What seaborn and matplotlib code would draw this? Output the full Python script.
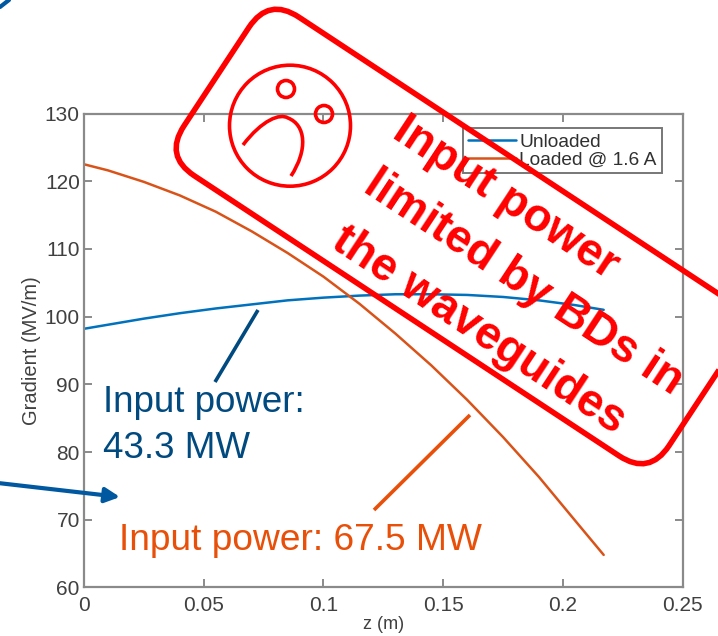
import pandas as pd
import seaborn as sns
import matplotlib.pyplot as plt
from matplotlib.patches import FancyBboxPatch, Circle, PathPatch, FancyArrowPatch
from matplotlib.path import Path
from matplotlib.transforms import Affine2D

# values
z_unloaded = [0, 0.01, 0.025, 0.04, 0.055, 0.07, 0.085, 0.1, 0.115, 0.13, 0.145, 0.16, 0.175, 0.19, 0.205, 0.217]
g_unloaded = [98.2, 98.8, 99.7, 100.5, 101.2, 101.8, 102.4, 102.8, 103.1, 103.3, 103.3, 103.2, 102.9, 102.4, 101.7, 101.0]
z_loaded = [0, 0.01, 0.025, 0.04, 0.055, 0.07, 0.085, 0.1, 0.115, 0.13, 0.145, 0.16, 0.175, 0.19, 0.205, 0.217]
g_loaded = [122.5, 121.6, 119.9, 117.9, 115.5, 112.6, 109.4, 105.9, 101.9, 97.5, 92.8, 87.7, 82.2, 76.3, 69.9, 64.8]

x_ticks = [0, 0.05, 0.1, 0.15, 0.2, 0.25]
x_labels = ['0', '0.05', '0.1', '0.15', '0.2', '0.25']
y_ticks = [60, 70, 80, 90, 100, 110, 120, 130]

stamp_lines = ['Input power', 'limited by BDs in', 'the waveguides']

df = pd.concat([
    pd.DataFrame({'z': z_unloaded, 'g': g_unloaded, 'case': 'Unloaded'}),
    pd.DataFrame({'z': z_loaded, 'g': g_loaded, 'case': 'Loaded @ 1.6 A'}),
])

sns.set_style('white')
plt.rcParams['font.family'] = ['Liberation Sans', 'DejaVu Sans']

W, H = 718, 636
fig = plt.figure(figsize=(W / 100, H / 100), dpi=100)
ax = fig.add_axes([84 / W, 1 - 587.4 / H, (682.7 - 84) / W, (587.4 - 113.5) / H])

sns.lineplot(data=df, x='z', y='g', hue='case', palette=['#0072BD', '#D95319'],
             linewidth=1.8, ax=ax, estimator=None, sort=False)
ax.set_xlim(0, 0.25)
ax.set_ylim(60, 130)
ax.set_xticks(x_ticks)
ax.set_xticklabels(x_labels)
ax.set_yticks(y_ticks)
ax.tick_params(direction='in', length=6, width=1.2, color='#777777', labelcolor='#404040',
               labelsize=15, top=True, right=True, bottom=True, left=True, pad=3)
ax.tick_params(axis='x', pad=6)
for s in ax.spines.values():
    s.set_color('#8a8a8a')
    s.set_linewidth(1.6)
ax.set_xlabel('z (m)', fontsize=13, color='#404040', labelpad=1)
ax.set_ylabel('Gradient (MV/m)', fontsize=14.5, color='#404040', labelpad=3)

leg = ax.legend(loc='upper right', bbox_to_anchor=(0.9648, 0.9685), fontsize=13.8, frameon=True, fancybox=False,
                edgecolor='#777777', framealpha=1, labelspacing=0.02, handlelength=2.5, handletextpad=0.2,
                borderpad=0.25, borderaxespad=0)
leg.get_frame().set_linewidth(1.4)
for t in leg.get_texts():
    t.set_color('#303030')

# overlay in picture pixels for the slide annotations
ov = fig.add_axes([0, 0, 1, 1], facecolor='none')
ov.set_xlim(0, W)
ov.set_ylim(H, 0)
ov.axis('off')

angle = 33.4
cx, cy = 459, 236.5
box_w, box_h, rad = 581, 190, 36
rot = Affine2D().rotate_deg_around(cx, cy, angle) + ov.transData
ov.add_patch(FancyBboxPatch((cx - box_w / 2 + rad, cy - box_h / 2 + rad), box_w - 2 * rad, box_h - 2 * rad,
                            boxstyle='round,pad=%d,rounding_size=%d' % (rad, rad),
                            fc='none', ec='#FF0000', lw=4, transform=rot))

# sad face
ov.add_patch(Circle((290, 125.7), 60.5, fc='none', ec='#FF0000', lw=2.6))
ov.add_patch(Circle((286, 89), 8.5, fc='none', ec='#FF0000', lw=2.6))
ov.add_patch(Circle((324, 114), 8.5, fc='none', ec='#FF0000', lw=2.6))
mouth = Path([(243, 145), (262, 120), (280, 113), (288, 118), (306, 125), (308, 150), (291, 176)],
             [Path.MOVETO, Path.CURVE4, Path.CURVE4, Path.CURVE4, Path.CURVE4, Path.CURVE4, Path.CURVE4])
ov.add_patch(PathPatch(mouth, fc='none', ec='#FF0000', lw=2.6))

ov.text(506, 198, stamp_lines[0], color='#FF0000', fontsize=33, fontweight='bold', rotation=-angle,
        rotation_mode='anchor', ha='center', va='center')
ov.text(523, 283, stamp_lines[1], color='#FF0000', fontsize=33, fontweight='bold', rotation=-angle,
        rotation_mode='anchor', ha='center', va='center')
ov.text(479, 331, stamp_lines[2], color='#FF0000', fontsize=33, fontweight='bold', rotation=-angle,
        rotation_mode='anchor', ha='center', va='center')

# callouts
ov.text(103, 403, 'Input power:', color='#004A80', fontsize=26.5, ha='left', va='center')
ov.text(103, 448, '43.3 MW', color='#004A80', fontsize=26.5, ha='left', va='center')
ov.text(119, 541, 'Input power: 67.5 MW', color='#E8500A', fontsize=26.7, ha='left', va='center')
ov.plot([258, 215], [310, 382], color='#004A80', lw=2.6, solid_capstyle='butt')
ov.plot([470, 374], [415, 510], color='#E8500A', lw=2.6, solid_capstyle='butt')
ov.plot([0, 9], [7, 0], color='#0058A0', lw=3)
ov.add_patch(FancyArrowPatch((-2, 483), (120, 497), arrowstyle='-|>', mutation_scale=22, color='#0058A0', lw=3,
                             shrinkA=0, shrinkB=0))

fig.savefig('out.png', dpi=100)
